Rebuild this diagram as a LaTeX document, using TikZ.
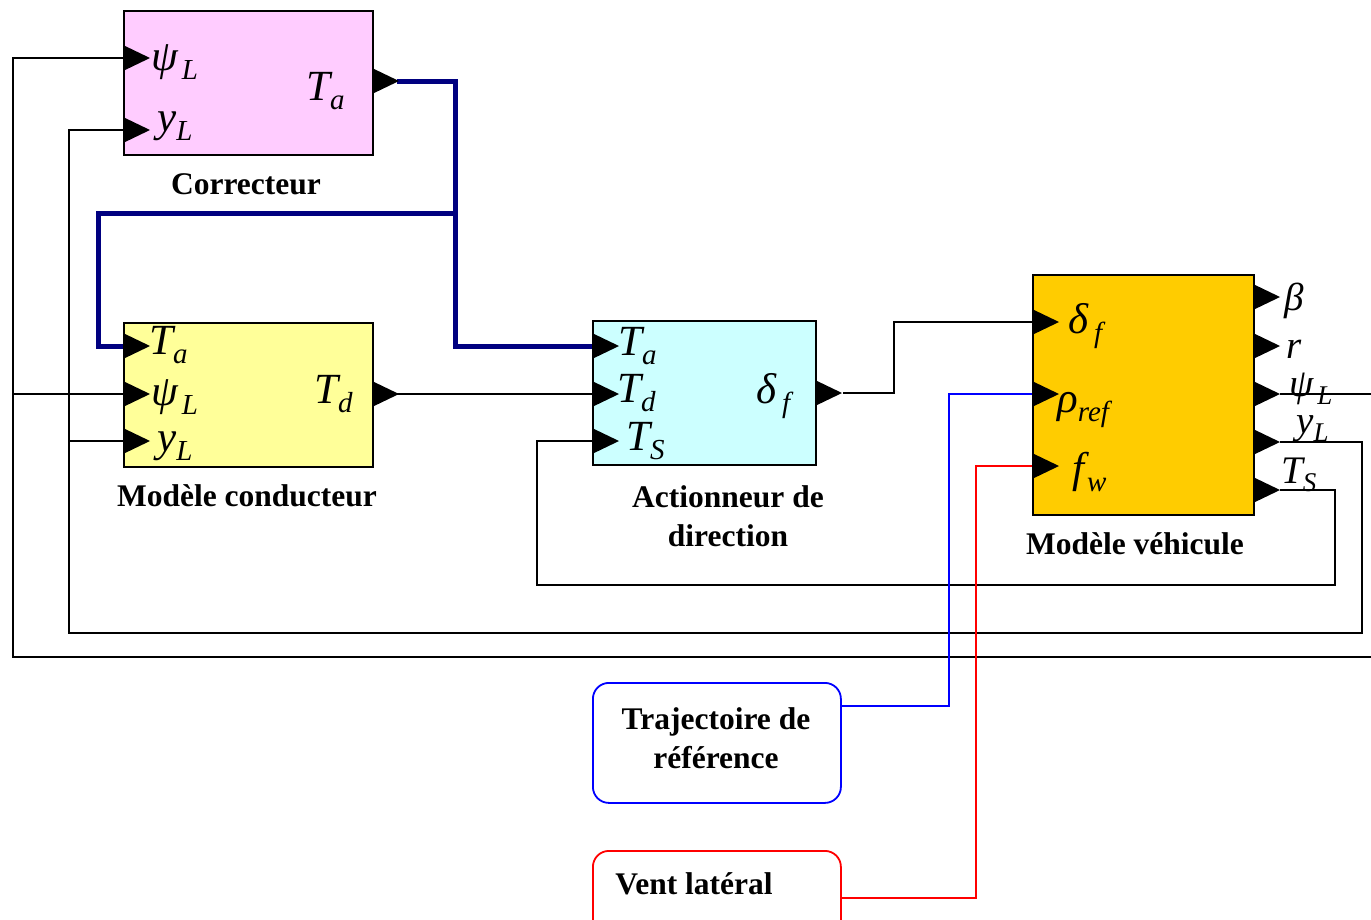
\documentclass[tikz,border=0pt]{standalone}
\usepackage{fontspec}
\setmainfont{Liberation Serif}
\definecolor{cpink}{HTML}{FFCCFF}
\definecolor{cyell}{HTML}{FFFF99}
\definecolor{ccyan}{HTML}{CCFFFF}
\definecolor{cgold}{HTML}{FFCC00}
\definecolor{cnavy}{HTML}{000080}
\newcommand{\pl}[2]{{\fontsize{43}{43}\selectfont\itshape #1}\raisebox{-9pt}{\fontsize{29}{29}\selectfont\itshape #2}}
\newcommand{\pr}[2]{{\fontsize{39}{39}\selectfont\itshape #1}\raisebox{-8pt}{\fontsize{27}{27}\selectfont\itshape #2}}
\newcommand{\inport}[1]{\fill (#1) ++(0,13) -- ++(27,-13) -- ++(-27,-13) -- cycle;}
\begin{document}
\begin{tikzpicture}[x=1pt,y=-1pt,
  blk/.style={draw=black,line width=1.5pt,inner sep=0pt,anchor=north west},
  lab/.style={anchor=base west,inner sep=0pt},
  captxt/.style={font=\fontsize{31.5}{39}\selectfont\bfseries,align=center,inner sep=0pt},
  wire/.style={line width=1.7pt,black},
  bus/.style={line width=5pt,cnavy},
  rbox/.style={draw,line width=1.8pt,rounded corners=16pt,inner sep=0pt,anchor=north west,minimum width=248pt}]
\useasboundingbox (0,0) rectangle (1371,919);
\clip (0,0) rectangle (1371,919);
% blocks
\node[blk,fill=cpink,minimum width=249pt,minimum height=144pt] (cor) at (123,10) {};
\node[blk,fill=cyell,minimum width=249pt,minimum height=144pt] (cond) at (123,322) {};
\node[blk,fill=ccyan,minimum width=223pt,minimum height=144pt] (act) at (592,320) {};
\node[blk,fill=cgold,minimum width=221pt,minimum height=240pt] (veh) at (1032,274) {};
\node[rbox,draw=blue,minimum height=120pt] (traj) at (592,682) {};
\node[rbox,draw=red,minimum height=90pt] (vent) at (592,850) {};
% captions
\node[captxt] (capcor) at (246,184) {Correcteur};
\node[captxt] (capcond) at (247,496) {Modèle conducteur};
\node[captxt] (capact) at (728,516) {Actionneur de\\direction};
\node[captxt] (capveh) at (1135,544) {Modèle véhicule};
\node[captxt] (captraj) at (716,738) {Trajectoire de\\référence};
\node[captxt] (capvent) at (694,884) {Vent latéral};
% ports
\coordinate (corPsi) at (123,58);
\coordinate (corY) at (123,130);
\coordinate (corTa) at (372,81);
\coordinate (corTaO) at (397,81);
\coordinate (condTa) at (123,346);
\coordinate (condPsi) at (123,394);
\coordinate (condY) at (123,441);
\coordinate (condTd) at (372,394);
\coordinate (condTdO) at (397,394);
\coordinate (actTa) at (592,346);
\coordinate (actTd) at (592,394);
\coordinate (actTS) at (592,441);
\coordinate (actD) at (815,393);
\coordinate (actDO) at (843,393);
\coordinate (vehD) at (1032,322);
\coordinate (vehRho) at (1032,394);
\coordinate (vehFw) at (1032,466);
\coordinate (vehB) at (1253,297);
\coordinate (vehR) at (1253,346);
\coordinate (vehPsi) at (1253,394);
\coordinate (vehY) at (1253,442);
\coordinate (vehTS) at (1253,490);
\coordinate (vehPsiO) at (1280,394);
\coordinate (vehYO) at (1280,442);
\coordinate (vehTSO) at (1280,490);
\coordinate (trajO) at (840,706);
\coordinate (ventO) at (840,898);
% bends
\coordinate (j1) at (455,213);
\coordinate (j2) at (98,213);
\coordinate (k1) at (894,393);
\coordinate (p1) at (1378,657);
\coordinate (p2) at (13,657);
\coordinate (p3) at (13,394);
\coordinate (q1) at (1362,633);
\coordinate (q2) at (69,633);
\coordinate (q3) at (69,441);
\coordinate (s1) at (1335,585);
\coordinate (s2) at (537,585);
\coordinate (b1) at (949,394);
\coordinate (r1) at (976,466);
% wires
\draw[bus] (corTaO) -| (j1) |- (actTa);
\draw[bus] (j1) -- (j2) |- (condTa);
\draw[wire] (condTdO) -- (actTd);
\draw[wire] (actDO) -- (k1) |- (vehD);
\draw[wire] (vehPsiO) -| (p1) -- (p2) |- (corPsi);
\draw[wire] (p3) -- (condPsi);
\draw[wire] (vehYO) -| (q1) -- (q2) |- (corY);
\draw[wire] (q3) -- (condY);
\draw[wire] (vehTSO) -| (s1) -- (s2) |- (actTS);
\draw[line width=1.7pt,blue] (trajO) -| (b1) -- (vehRho);
\draw[line width=1.7pt,red] (ventO) -| (r1) -- (vehFw);
% triangles
\inport{corPsi}\inport{corY}\inport{corTa}
\inport{condTa}\inport{condPsi}\inport{condY}\inport{condTd}
\inport{actTa}\inport{actTd}\inport{actTS}\inport{actD}
\inport{vehD}\inport{vehRho}\inport{vehFw}
\inport{vehB}\inport{vehR}\inport{vehPsi}\inport{vehY}\inport{vehTS}
% port labels
\node[lab] (l1) at (151,70) {\pl{ψ\kern4pt}{L}};
\node[lab] (l2) at (157,131) {\pl{y}{L}};
\node[lab] (l3) at (306,100) {\pl{T}{a}};
\node[lab] (l4) at (149,354) {\pl{T}{a}};
\node[lab] (l5) at (151,405) {\pl{ψ\kern4pt}{L}};
\node[lab] (l6) at (157,451) {\pl{y}{L}};
\node[lab] (l7) at (314,403) {\pl{T}{d}};
\node[lab] (l8) at (618,355) {\pl{T}{a}};
\node[lab] (l9) at (617,402) {\pl{T}{d}};
\node[lab] (l10) at (626,450) {\pl{T}{S}};
\node[lab] (l11) at (756,403) {\pl{δ\kern6pt}{f}};
\node[lab] (l12) at (1068,333) {\pl{δ\kern6pt}{f}};
\node[lab] (l13) at (1057,412) {\pl{ρ}{ref}};
\node[lab] (l14) at (1072,482) {\pl{f\kern3pt}{w}};
\node[lab] (l15) at (1284,310) {\pr{β}{}};
\node[lab] (l16) at (1286,358) {\pr{r}{}};
\node[lab] (l17) at (1289,396) {\pr{ψ\kern4pt}{L}};
\node[lab] (l18) at (1296,433) {\pr{y}{L}};
\node[lab] (l19) at (1281,483) {\pr{T}{S}};
\end{tikzpicture}
\end{document}
